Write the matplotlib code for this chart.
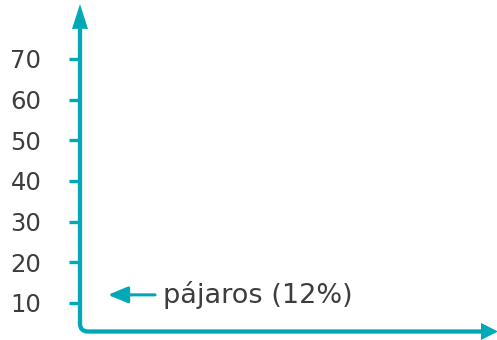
import matplotlib.pyplot as plt
from matplotlib.path import Path
from matplotlib.patches import PathPatch, Polygon

# data
tick_values = [10, 20, 30, 40, 50, 60, 70]
tick_labels = ['10', '20', '30', '40', '50', '60', '70']
label_text = 'pájaros (12%)'
label_value = 12

teal = '#00a9b5'
grey = '#3d3d3d'

fig = plt.figure(figsize=(4.97, 3.4), dpi=100)
ax = fig.add_axes([0, 0, 1, 1])
ax.set_xlim(0, 497)
ax.set_ylim(0.9, 84.5)

# y axis ticks through the axis itself
for s in ['top', 'right', 'bottom']:
    ax.spines[s].set_visible(False)
ax.spines['left'].set_position(('data', 80))
ax.spines['left'].set_visible(False)
ax.set_xticks([])
ax.set_yticks(tick_values)
ax.set_yticklabels(tick_labels)
ax.tick_params(axis='y', direction='out', length=7.9, width=2.4, color=teal,
               pad=20, labelsize=17.5, labelcolor=grey)

# axis lines with rounded corner
x0, y0 = 80, 2.99
r_x, r_y = 8, 1.97
verts = [(x0, 77.5), (x0, y0 + r_y), (x0, y0), (x0 + r_x, y0), (482, y0)]
codes = [Path.MOVETO, Path.LINETO, Path.CURVE3, Path.CURVE3, Path.LINETO]
ax.add_patch(PathPatch(Path(verts, codes), fill=False, edgecolor=teal,
                       lw=3.1, capstyle='butt', joinstyle='round'))
ax.add_patch(Polygon([(x0, 83.5), (72, 77.4), (88, 77.4)],
                     closed=True, color=teal, lw=0))
ax.add_patch(Polygon([(498, y0), (481, 5.1), (481, 0.9)],
                     closed=True, color=teal, lw=0))

# label with arrow
ax.annotate('', xy=(108, label_value), xytext=(155, label_value),
            arrowprops=dict(arrowstyle='-|>,head_length=1.2,head_width=0.5',
                            mutation_scale=10, color=teal, lw=2.2,
                            shrinkA=0, shrinkB=0))
ax.text(163, label_value - 2, label_text, fontsize=19.5, color=grey,
        ha='left', va='baseline')

fig.savefig('out.png', dpi=100)
